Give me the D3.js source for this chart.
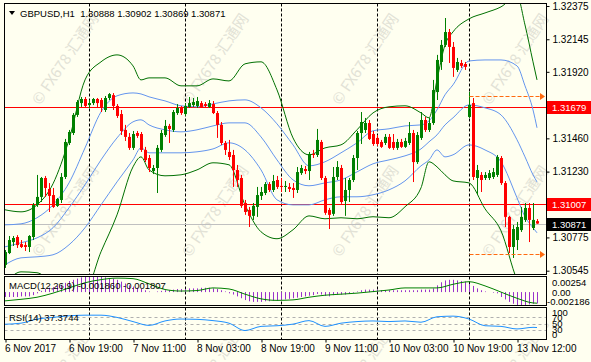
<!DOCTYPE html>
<html>
<head>
<meta charset="utf-8">
<script src="https://cdn.jsdelivr.net/npm/d3@7"></script>
<style>
  body { margin: 0; background: #fffff0; }
  svg { display: block; font-family: 'Liberation Sans', Arial, sans-serif; font-size: 9.5px; }
</style>
</head>
<body>
<svg id="chart" width="591" height="362"></svg>
<script>
// ---- data ----
const opens = [1.30585,1.30667,1.30743,1.30778,1.30729,1.30722,1.30709,1.30778,1.30999,1.31055,1.31186,1.31110,1.31068,1.30993,1.31034,1.31193,1.31428,1.31497,1.31622,1.31704,
  1.31732,1.31690,1.31704,1.31732,1.31725,1.31656,1.31739,1.31759,1.31684,1.31628,1.31518,1.31470,1.31394,1.31497,1.31490,1.31380,1.31324,1.31234,1.31255,1.31380,
  1.31483,1.31546,1.31518,1.31635,1.31670,1.31628,1.31677,1.31690,1.31684,1.31704,1.31697,1.31677,1.31697,1.31635,1.31553,1.31428,1.31366,1.31345,1.31241,1.31186,
  1.31013,1.30965,1.30924,1.30986,1.31062,1.31082,1.31144,1.31103,1.31172,1.31131,1.31124,1.31124,1.31117,1.31103,1.31220,1.31248,1.31234,1.31352,1.31345,1.31435,
  1.31186,1.30965,1.30938,1.31193,1.31255,1.31027,1.31103,1.31172,1.31324,1.31497,1.31518,1.31566,1.31490,1.31463,1.31435,1.31428,1.31470,1.31435,1.31394,1.31435,
  1.31401,1.31428,1.31497,1.31296,1.31463,1.31587,1.31518,1.31566,1.31780,1.31988,1.32106,1.32195,1.32092,1.31933,1.31981,1.31974,1.31608,1.31704,1.31186,1.31207,
  1.31186,1.31186,1.31193,1.31207,1.31324,1.31151,1.30917,1.30709,1.30757,1.30826,1.30896,1.30979,1.30840,1.30888];
const highs = [1.30688,1.30785,1.30785,1.30791,1.30757,1.30743,1.30791,1.31013,1.31207,1.31193,1.31200,1.31151,1.31117,1.31048,1.31220,1.31456,1.31518,1.31635,1.31725,1.31746,
  1.31746,1.31725,1.31739,1.31739,1.31739,1.31753,1.31773,1.31773,1.31697,1.31656,1.31553,1.31497,1.31511,1.31511,1.31504,1.31401,1.31345,1.31276,1.31414,1.31518,
  1.31587,1.31560,1.31656,1.31697,1.31684,1.31704,1.31746,1.31739,1.31746,1.31718,1.31711,1.31725,1.31718,1.31649,1.31573,1.31442,1.31449,1.31380,1.31276,1.31207,
  1.31034,1.30986,1.31013,1.31124,1.31124,1.31158,1.31158,1.31207,1.31200,1.31186,1.31165,1.31151,1.31151,1.31262,1.31276,1.31269,1.31366,1.31380,1.31525,1.31449,
  1.31200,1.30979,1.31262,1.31303,1.31276,1.31186,1.31186,1.31345,1.31511,1.31642,1.31601,1.31587,1.31511,1.31483,1.31449,1.31490,1.31490,1.31490,1.31456,1.31456,
  1.31463,1.31573,1.31518,1.31504,1.31642,1.31608,1.31601,1.31864,1.32037,1.32140,1.32292,1.32216,1.32126,1.32016,1.32002,1.31988,1.31781,1.31739,1.31276,1.31227,
  1.31227,1.31241,1.31255,1.31345,1.31338,1.31165,1.30924,1.30861,1.30882,1.30986,1.31013,1.31013,1.31013,1.30902];
const lows = [1.30564,1.30660,1.30716,1.30702,1.30702,1.30681,1.30674,1.30757,1.30986,1.31020,1.31055,1.30951,1.30979,1.30986,1.31013,1.31179,1.31414,1.31483,1.31608,1.31677,
  1.31670,1.31670,1.31690,1.31670,1.31642,1.31642,1.31725,1.31656,1.31601,1.31483,1.31442,1.31380,1.31380,1.31463,1.31366,1.31296,1.31227,1.31213,1.31082,1.31366,
  1.31470,1.31428,1.31504,1.31622,1.31622,1.31615,1.31670,1.31677,1.31670,1.31670,1.31670,1.31670,1.31628,1.31463,1.31414,1.31345,1.31310,1.31124,1.31124,1.30979,
  1.30931,1.30847,1.30896,1.30917,1.31034,1.31068,1.31089,1.31089,1.31110,1.31089,1.31089,1.31089,1.31048,1.31082,1.31207,1.31213,1.31172,1.31324,1.31331,1.31172,
  1.30931,1.30833,1.30924,1.31172,1.31007,1.30924,1.31020,1.31158,1.31241,1.31421,1.31497,1.31449,1.31408,1.31408,1.31394,1.31414,1.31387,1.31380,1.31380,1.31394,
  1.31394,1.31414,1.31158,1.31283,1.31449,1.31504,1.31504,1.31553,1.31725,1.31933,1.32092,1.31981,1.31885,1.31919,1.31947,1.31933,1.31601,1.31172,1.31068,1.31089,
  1.31172,1.31172,1.31179,1.31193,1.31138,1.30847,1.30667,1.30633,1.30688,1.30813,1.30882,1.30743,1.30826,1.30869];
const closes = [1.30674,1.30757,1.30771,1.30722,1.30709,1.30709,1.30785,1.30999,1.31055,1.31186,1.31117,1.31062,1.30986,1.31041,1.31193,1.31435,1.31504,1.31622,1.31711,1.31732,
  1.31684,1.31704,1.31732,1.31704,1.31677,1.31739,1.31766,1.31684,1.31615,1.31511,1.31470,1.31394,1.31490,1.31477,1.31380,1.31310,1.31255,1.31255,1.31394,1.31497,
  1.31546,1.31525,1.31642,1.31670,1.31635,1.31684,1.31704,1.31711,1.31718,1.31677,1.31684,1.31704,1.31635,1.31553,1.31428,1.31380,1.31331,1.31241,1.31172,1.30993,
  1.30951,1.30924,1.30993,1.31068,1.31089,1.31144,1.31103,1.31165,1.31124,1.31124,1.31131,1.31110,1.31103,1.31227,1.31255,1.31234,1.31352,1.31345,1.31449,1.31186,
  1.30945,1.30931,1.31193,1.31262,1.31020,1.31103,1.31172,1.31324,1.31497,1.31573,1.31566,1.31456,1.31421,1.31421,1.31401,1.31470,1.31394,1.31394,1.31435,1.31401,
  1.31442,1.31497,1.31296,1.31483,1.31587,1.31518,1.31566,1.31794,1.32002,1.32106,1.32195,1.32092,1.31947,1.31988,1.31961,1.31954,1.31691,1.31193,1.31241,1.31172,
  1.31207,1.31220,1.31227,1.31331,1.31151,1.30917,1.30709,1.30833,1.30847,1.30917,1.30979,1.30896,1.30896,1.30871];

// band lines, sampled at these bar numbers
const bandBars = [0,4,8,12,16,20,24,28,32,34,36,40,44,48,52,56,60,64,68,72,76,80,84,88,92,96,100,104,106,108,110,112,116,120,124,128,130,132,133];
const greenUpper = [1.30966,1.30952,1.31000,1.31146,1.31450,1.31864,1.31989,1.32037,1.31961,1.31864,1.31878,1.31878,1.31823,1.31823,1.31871,1.31857,1.31975,1.31989,1.31795,1.31463,
  1.31346,1.31394,1.31415,1.31519,1.31636,1.31678,1.31685,1.31636,1.31602,1.31864,1.32106,1.32196,1.32286,1.32327,1.32369,1.32445,1.32244,1.31989,1.31864];
const blueUpper = [1.30862,1.30869,1.30911,1.31000,1.31152,1.31394,1.31643,1.31754,1.31774,1.31767,1.31747,1.31719,1.31685,1.31678,1.31698,1.31719,1.31726,1.31671,1.31560,1.31415,
  1.31270,1.31298,1.31360,1.31429,1.31512,1.31526,1.31546,1.31553,1.31581,1.31657,1.31761,1.31830,1.31995,1.32002,1.32002,1.31961,1.31823,1.31657,1.31533];
const blueMiddle = [1.30710,1.30738,1.30772,1.30842,1.30980,1.31139,1.31311,1.31463,1.31574,1.31588,1.31553,1.31519,1.31505,1.31519,1.31546,1.31567,1.31567,1.31470,1.31311,1.31173,
  1.31132,1.31152,1.31173,1.31228,1.31284,1.31311,1.31339,1.31387,1.31436,1.31484,1.31553,1.31602,1.31691,1.31671,1.31622,1.31450,1.31332,1.31208,1.31159];
const blueLower = [1.30586,1.30634,1.30641,1.30655,1.30724,1.30842,1.31000,1.31159,1.31311,1.31394,1.31360,1.31360,1.31360,1.31367,1.31387,1.31429,1.31380,1.31242,1.31035,1.31000,
  1.31000,1.31035,1.31056,1.31056,1.31070,1.31104,1.31166,1.31270,1.31311,1.31380,1.31332,1.31346,1.31415,1.31380,1.31298,1.31049,1.30918,1.30842,1.30807];
const greenLower = [1.30455,1.30537,1.30531,1.30461,1.30413,1.30413,1.30676,1.30931,1.31263,1.31332,1.31242,1.31201,1.31208,1.31242,1.31291,1.31277,1.31000,1.30814,1.30766,1.30828,
  1.30924,1.30904,1.30911,1.30904,1.30918,1.30911,1.30987,1.31118,1.31298,1.31263,1.31208,1.31166,1.31152,1.30973,1.30821,1.30482,1.30379,1.30344,1.30309];

// MACD(12,26,9): main as histogram (one per bar), signal sampled
const macdMain = [-0.0008,-0.0008,-0.0008,-0.0008,-0.0007,-0.0007,-0.0007,-0.0005,-0.0002,0.0002,0.0005,0.0007,0.0008,0.0010,0.0012,0.0015,0.0018,0.0020,0.0022,0.0024,
  0.0025,0.0025,0.0025,0.0025,0.0025,0.0024,0.0023,0.0022,0.0020,0.0017,0.0014,0.0011,0.0009,0.0007,0.0005,0.0003,0.0001,0.0000,0.0001,0.0002,
  0.0003,0.0003,0.0004,0.0005,0.0005,0.0005,0.0006,0.0006,0.0006,0.0007,0.0007,0.0007,0.0006,0.0005,0.0003,0.0001,-0.0002,-0.0004,-0.0007,-0.0010,
  -0.0013,-0.0015,-0.0016,-0.0016,-0.0016,-0.0015,-0.0015,-0.0014,-0.0014,-0.0013,-0.0012,-0.0011,-0.0010,-0.0009,-0.0008,-0.0007,-0.0006,-0.0005,-0.0003,-0.0004,
  -0.0006,-0.0007,-0.0005,-0.0004,-0.0004,-0.0004,-0.0003,-0.0001,0.0001,0.0003,0.0004,0.0004,0.0004,0.0004,0.0003,0.0003,0.0003,0.0003,0.0003,0.0003,
  0.0003,0.0003,0.0003,0.0003,0.0004,0.0004,0.0004,0.0006,0.0011,0.0016,0.0019,0.0020,0.0020,0.0019,0.0018,0.0017,0.0013,0.0010,0.0006,0.0003,
  0.0001,0.0000,-0.0001,-0.0002,-0.0008,-0.0012,-0.0016,-0.0019,-0.0021,-0.00219,-0.0021,-0.0020,-0.0019,-0.00186];
const oscBars = [0,4,8,12,16,20,24,28,32,36,40,44,48,52,56,60,64,68,72,76,80,84,88,92,96,100,104,108,112,116,120,124,128,132,133];
const macdSignal = [-0.00143,-0.00118,-0.00084,-0.00017,0.00068,0.00152,0.00203,0.00228,0.00219,0.00135,0.00042,0.00017,0.00025,0.00068,0.00051,-0.00034,-0.00110,-0.00135,-0.00127,-0.00084,
  -0.00051,-0.00034,-0.00017,0.00008,0.00034,0.00068,0.00068,0.00068,0.00127,0.00169,0.00101,0.00000,-0.00101,-0.00177,-0.001807];
const rsi = [47.7,51,64,69,74,76,76,69,56,44,58,64,63,59,51,28,41,43,48,59,41,51,56,58,56,58,54,71,73,64,43,41,33,38,37.37];

// levels and labels
const priceTicks = [1.32375,1.32145,1.31920,1.31460,1.31230,1.30775,1.30545];
const redLevels = [1.31679, 1.31007];
const bidPrice = 1.30871;
const arrowLevels = [1.31755, 1.30659];
const daySeparators = [21, 45, 69, 93, 116];
const timeTickBars = [0,16,32,48,64,80,96,112,128];
const timeTickLabels = ['6 Nov 2017','6 Nov 19:00','7 Nov 11:00','8 Nov 03:00','8 Nov 19:00','9 Nov 11:00','10 Nov 03:00','10 Nov 19:00','13 Nov 12:00'];
const header = 'GBPUSD,H1  1.30888 1.30902 1.30869 1.30871';
const macdRange = [-0.002186, 0.00254];
const rsiLevels = [70, 50, 30];

// ---- drawing ----
const W = 591, H = 362;
const bg = '#fffff0';
const main = {left: 4.5, right: 546.5, top: 3.5, bottom: 274.5};
const macdBox = {top: 276.5, bottom: 305.5};
const rsiBox = {top: 307.5, bottom: 339.5};
const svg = d3.select('#chart');

svg.append('rect').attr('width', W).attr('height', H).attr('fill', bg);

// watermark, tiled, very faint
const wm = svg.append('g').attr('fill', '#e2e2d6').attr('font-family', "'Noto Sans CJK SC', sans-serif")
  .attr('font-size', 15);
[106, 258, 411].forEach(wy => [40, 190, 340, 490].forEach(wx => {
  wm.append('text').attr('transform', `translate(${wx},${wy}) rotate(-56)`).text('© FX678 汇通网');
}));

const x = d3.scaleLinear().domain([0, closes.length - 1]).range([5, 537]);
const y = d3.scaleLinear().domain([1.30545, 1.32375]).range([270.7, 6]);
const px = i => Math.round(x(i)) + 0.5;

svg.append('clipPath').attr('id', 'clipMain').append('rect')
  .attr('x', main.left).attr('y', main.top).attr('width', main.right - main.left).attr('height', main.bottom - main.top);
const g = svg.append('g').attr('clip-path', 'url(#clipMain)');

// day separators
const sepLines = (gg, y1, y2) => gg.selectAll(null).data(daySeparators).join('line')
  .attr('x1', px).attr('x2', px).attr('y1', y1).attr('y2', y2)
  .attr('stroke', '#000').attr('stroke-dasharray', '3,2');
sepLines(g, main.top, main.bottom);

// horizontal levels
g.selectAll('.lvl').data(redLevels).join('line').attr('class', 'lvl')
  .attr('x1', main.left).attr('x2', main.right)
  .attr('y1', d => Math.round(y(d)) + 0.5).attr('y2', d => Math.round(y(d)) + 0.5)
  .attr('stroke', '#ff0000');
g.append('line').attr('x1', main.left).attr('x2', main.right)
  .attr('y1', Math.round(y(bidPrice)) + 0.5).attr('y2', Math.round(y(bidPrice)) + 0.5)
  .attr('stroke', '#c0c0c0');

// bands
const bandLine = vals => d3.line().x((d, k) => x(bandBars[k])).y(d => y(d)).curve(d3.curveMonotoneX)(vals);
[[greenUpper, '#007000'], [greenLower, '#007000'], [blueUpper, '#6495ed'], [blueMiddle, '#6495ed'], [blueLower, '#6495ed']]
  .forEach(([vals, col]) => g.append('path').attr('d', bandLine(vals)).attr('fill', 'none').attr('stroke', col).attr('stroke-width', 1));

// candles
const bars = d3.range(closes.length);
const up = i => closes[i] >= opens[i];
g.selectAll('.wick').data(bars).join('line').attr('class', 'wick')
  .attr('x1', px).attr('x2', px)
  .attr('y1', i => y(highs[i])).attr('y2', i => y(lows[i]))
  .attr('stroke', i => up(i) ? '#008000' : '#ff0000');
g.selectAll('.body').data(bars).join('rect').attr('class', 'body')
  .attr('x', i => Math.round(x(i)) - 1).attr('width', 3)
  .attr('y', i => y(Math.max(opens[i], closes[i])))
  .attr('height', i => Math.max(1, Math.abs(y(opens[i]) - y(closes[i]))))
  .attr('fill', i => up(i) ? '#008000' : '#ff0000');

// dashed arrows from Monday
arrowLevels.forEach(v => {
  const yy = Math.round(y(v)) + 0.5;
  g.append('line').attr('x1', px(116)).attr('x2', 540).attr('y1', yy).attr('y2', yy)
    .attr('stroke', '#ff6a10').attr('stroke-dasharray', '4,2');
  g.append('path').attr('d', `M540,${yy - 3.5}L545,${yy}L540,${yy + 3.5}Z`).attr('fill', '#ff6a10');
});

// frames
const frame = (top, bottom) => svg.append('rect').attr('x', main.left).attr('y', top)
  .attr('width', main.right - main.left).attr('height', bottom - top).attr('fill', 'none').attr('stroke', '#000');

// header
svg.append('path').attr('d', 'M9,11L15,11L12,15Z').attr('fill', '#000');
svg.append('text').attr('x', 20).attr('y', 17).attr('xml:space', 'preserve').style('white-space', 'pre').text(header);

// price axis
const priceAxis = d3.axisRight(y).tickValues(priceTicks).tickFormat(d3.format('.5f')).tickSize(3).tickPadding(3);
const pa = svg.append('g').attr('transform', `translate(${main.right},0)`).call(priceAxis);
pa.select('.domain').remove();
pa.selectAll('text').attr('font-family', null).attr('font-size', null).attr('fill', '#000');
pa.selectAll('line').attr('stroke', '#000');

const boxLabel = (v, col) => {
  const yy = Math.round(y(v));
  svg.append('rect').attr('x', main.right + 0.5).attr('y', yy - 6).attr('width', W - main.right).attr('height', 13).attr('fill', col);
  svg.append('text').attr('x', 552).attr('y', yy + 3.5).attr('fill', '#fff').text(d3.format('.5f')(v));
};
redLevels.forEach(v => boxLabel(v, '#ff0000'));
boxLabel(bidPrice, '#000');

// MACD panel
const ym = d3.scaleLinear().domain(macdRange).range([macdBox.bottom, macdBox.top]);
svg.append('rect').attr('x', main.left).attr('y', macdBox.top).attr('width', main.right - main.left)
  .attr('height', macdBox.bottom - macdBox.top).attr('fill', bg);
const gm = svg.append('g');
sepLines(gm, macdBox.top, macdBox.bottom);
gm.selectAll('.hist').data(bars).join('line').attr('class', 'hist')
  .attr('x1', px).attr('x2', px).attr('y1', ym(0)).attr('y2', i => ym(macdMain[i]))
  .attr('stroke', '#9932cc');
gm.append('path').attr('d', d3.line().x((d, k) => x(oscBars[k])).y(d => ym(d)).curve(d3.curveMonotoneX)(macdSignal))
  .attr('fill', 'none').attr('stroke', '#008000');
svg.append('text').attr('x', 9).attr('y', 289).text('MACD(12,26,9) -0.001860 -0.001807');
svg.append('text').attr('x', 552).attr('y', macdBox.top + 9).text('0.00254');
svg.append('text').attr('x', 552).attr('y', ym(0) + 3.5).text('0.00');
svg.append('text').attr('x', 547).attr('y', macdBox.bottom - 1).text('-0.002186');

// RSI panel
const yr = d3.scaleLinear().domain([0, 100]).range([rsiBox.bottom, rsiBox.top]);
svg.append('rect').attr('x', main.left).attr('y', rsiBox.top).attr('width', main.right - main.left)
  .attr('height', rsiBox.bottom - rsiBox.top).attr('fill', bg);
const gr = svg.append('g');
sepLines(gr, rsiBox.top, rsiBox.bottom);
gr.selectAll('.rl').data(rsiLevels).join('line').attr('class', 'rl')
  .attr('x1', main.left).attr('x2', main.right)
  .attr('y1', d => Math.round(yr(d)) + 0.5).attr('y2', d => Math.round(yr(d)) + 0.5)
  .attr('stroke', '#b0b0b0').attr('stroke-dasharray', '3,3');
gr.append('path').attr('d', d3.line().x((d, k) => x(oscBars[k])).y(d => yr(d)).curve(d3.curveMonotoneX)(rsi))
  .attr('fill', 'none').attr('stroke', '#1e90ff');
svg.append('text').attr('x', 9).attr('y', 321).text('RSI(14) 37.3744');
[[100, rsiBox.top + 8.5], [70, yr(70) + 3.5], [50, yr(50) + 3.5], [30, yr(30) + 3.5], [0, rsiBox.bottom - 1.5]]
  .forEach(([v, ty]) => svg.append('text').attr('x', 552).attr('y', ty).text(v));

frame(main.top, main.bottom);
frame(macdBox.top, macdBox.bottom);
frame(rsiBox.top, rsiBox.bottom);

// time axis
const timeAxis = d3.axisBottom(x).tickValues(timeTickBars).tickFormat((d, k) => timeTickLabels[k]).tickSize(3).tickPadding(2);
const ta = svg.append('g').attr('transform', `translate(0.5,${rsiBox.bottom})`).call(timeAxis);
ta.select('.domain').remove();
ta.selectAll('text').attr('font-family', null).attr('font-size', null).attr('fill', '#000')
  .attr('text-anchor', 'start').attr('dx', -1);
ta.selectAll('line').attr('stroke', '#000');
</script>
</body>
</html>
